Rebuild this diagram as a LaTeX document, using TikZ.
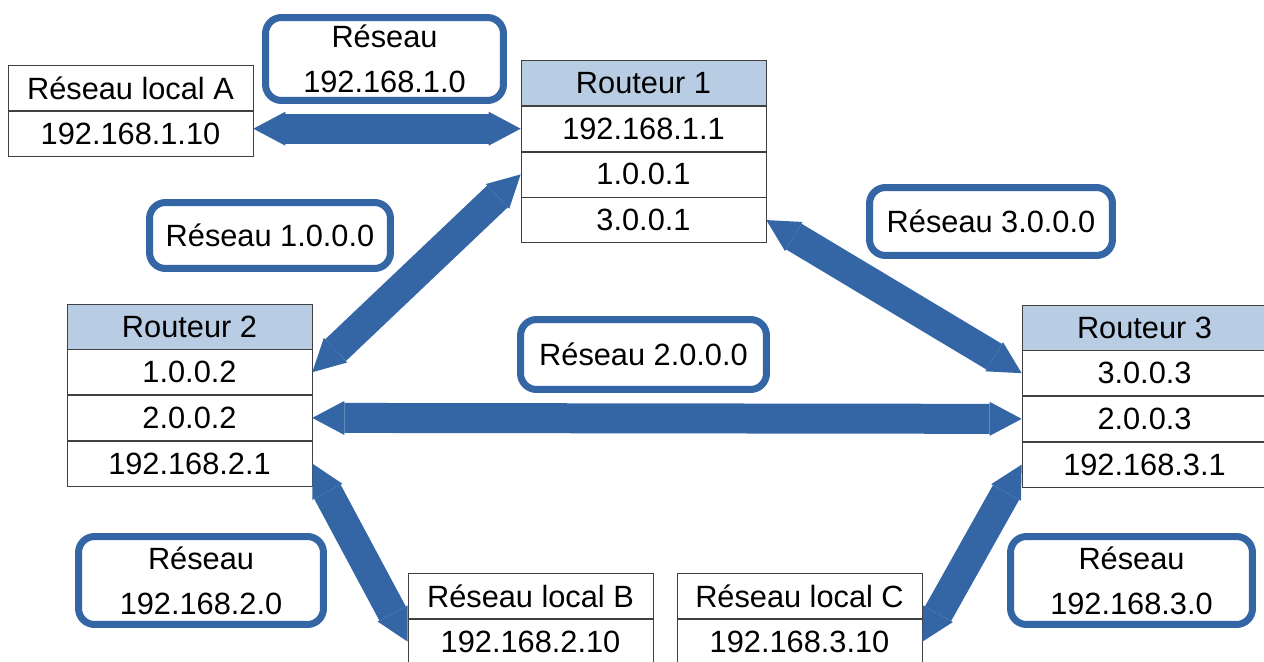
\documentclass[tikz,border=0pt]{standalone}
\usepackage{fontspec}
\setmainfont{Liberation Sans}
\usetikzlibrary{arrows.meta,positioning}
\definecolor{linkBlue}{RGB}{52,102,166}
\definecolor{headBlue}{RGB}{184,204,228}
\begin{document}
\begin{tikzpicture}[
    x=0.02cm, y=-0.02cm,
    cell/.style={draw=black!75, fill=white, minimum width=4.9cm, minimum height=0.9cm,
      inner sep=0pt, font=\fontsize{17.5}{25.6}\selectfont},
    head/.style={cell, fill=headBlue},
    netbox/.style={draw=linkBlue, line width=0.14cm, rounded corners=0.32cm, fill=white,
      align=center, inner sep=0pt, font=\fontsize{17.5}{25.6}\selectfont},
    link/.style={draw=linkBlue, line width=0.6cm,
      {Triangle[length=0.64cm,width=0.68cm,line width=0pt]}-{Triangle[length=0.64cm,width=0.68cm,line width=0pt]}}
  ]
  \useasboundingbox (0,0) rectangle (1264,662);
  % Local networks
  \node[cell] (la) at (130.5,88) {Réseau local A};
  \node[cell, below=0pt of la] (la1) {192.168.1.10};
  \node[cell] (lb) at (530.5,596) {Réseau local B};
  \node[cell, below=0pt of lb] (lb1) {192.168.2.10};
  \node[cell] (lc) at (799.5,596) {Réseau local C};
  \node[cell, below=0pt of lc] (lc1) {192.168.3.10};
  % Routeur 1
  \node[head] (r1) at (643.5,83) {Routeur 1};
  \node[cell, below=0pt of r1] (r1a) {192.168.1.1};
  \node[cell, below=0pt of r1a] (r1b) {1.0.0.1};
  \node[cell, below=0pt of r1b] (r1c) {3.0.0.1};
  % Routeur 2
  \node[head] (r2) at (189.5,326.5) {Routeur 2};
  \node[cell, below=0pt of r2] (r2a) {1.0.0.2};
  \node[cell, below=0pt of r2a] (r2b) {2.0.0.2};
  \node[cell, below=0pt of r2b] (r2c) {192.168.2.1};
  % Routeur 3
  \node[head] (r3) at (1144.5,327.5) {Routeur 3};
  \node[cell, below=0pt of r3] (r3a) {3.0.0.3};
  \node[cell, below=0pt of r3a] (r3b) {2.0.0.3};
  \node[cell, below=0pt of r3b] (r3c) {192.168.3.1};
  % Network labels
  \node[netbox, minimum width=4.76cm, minimum height=1.66cm] (n1) at (384.5,59) {Réseau\\192.168.1.0};
  \node[netbox, minimum width=4.82cm, minimum height=1.32cm] (n10) at (270,235.5) {Réseau 1.0.0.0};
  \node[netbox, minimum width=4.86cm, minimum height=1.36cm] (n30) at (991,221.5) {Réseau 3.0.0.0};
  \node[netbox, minimum width=4.92cm, minimum height=1.40cm] (n20) at (643.5,354.5) {Réseau 2.0.0.0};
  \node[netbox, minimum width=4.90cm, minimum height=1.76cm] (n2) at (201,580.5) {Réseau\\192.168.2.0};
  \node[netbox, minimum width=4.84cm, minimum height=1.76cm] (n3) at (1131.5,580.5) {Réseau\\192.168.3.0};
  % Links
  \draw[link] (r1a.west -| la1.east) -- (r1a.west);
  \draw[link] (r2a.east) -- (r1b.west);
  \draw[link] (r1c.east) -- (r3a.west);
  \draw[link] (r2b.east) -- (r3b.west);
  \draw[link] (r2c.east) -- (lb1.west);
  \draw[link] (r3c.west) -- (lc1.east);
\end{tikzpicture}
\end{document}
